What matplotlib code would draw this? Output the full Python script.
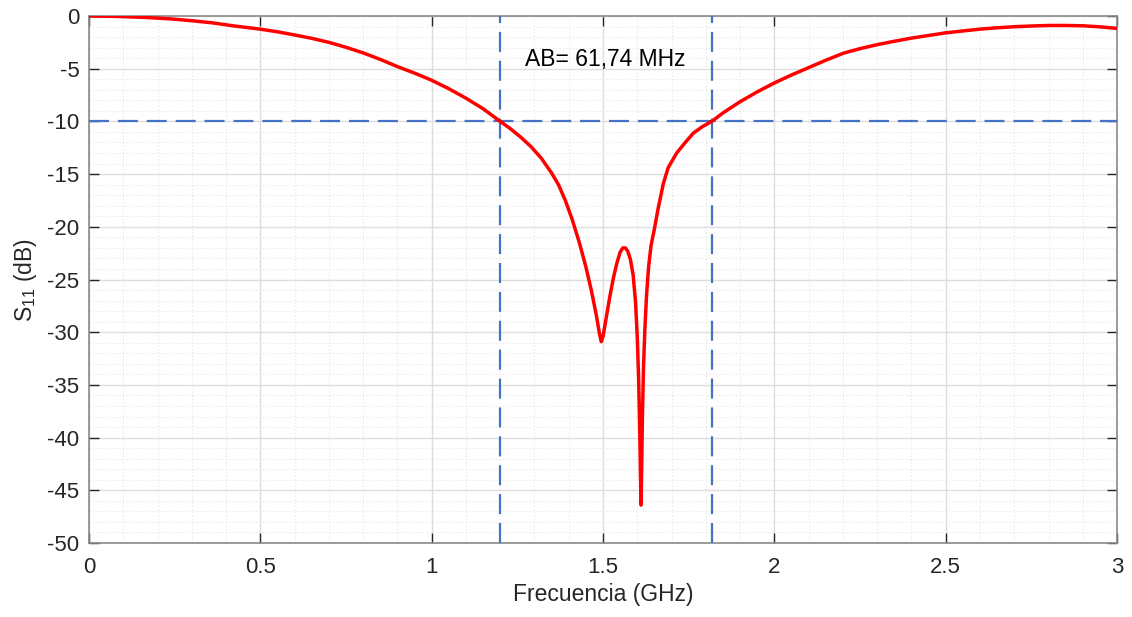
import matplotlib
matplotlib.use("Agg")
import matplotlib.pyplot as plt
from matplotlib.ticker import MultipleLocator

# ---------------------------------------------------------------------------
# Data
# ---------------------------------------------------------------------------

freq_ghz = [
    0.00, 0.08, 0.16, 0.24, 0.30, 0.36, 0.42, 0.50, 0.55, 0.60,
    0.65, 0.70, 0.75, 0.80, 0.85, 0.90, 0.95, 1.00, 1.05, 1.10,
    1.15, 1.20, 1.23, 1.26, 1.29, 1.32, 1.35, 1.37, 1.39, 1.41,
    1.43, 1.45, 1.465, 1.48, 1.49, 1.495, 1.50, 1.51, 1.52, 1.53,
    1.54, 1.55, 1.558, 1.565, 1.572, 1.58, 1.588, 1.595, 1.600, 1.604,
    1.607, 1.609, 1.611, 1.613, 1.615, 1.618, 1.622, 1.627, 1.633, 1.64,
    1.65, 1.66, 1.676, 1.69, 1.715, 1.74, 1.764, 1.79, 1.8174, 1.85,
    1.90, 1.95, 2.00, 2.05, 2.10, 2.15, 2.20, 2.21, 2.25, 2.30,
    2.35, 2.40, 2.45, 2.50, 2.55, 2.60, 2.65, 2.70, 2.75, 2.80,
    2.85, 2.90, 2.95, 3.00,
]
s11_db = [
    0.00, -0.04, -0.13, -0.28, -0.45, -0.65, -0.93, -1.25, -1.50, -1.80,
    -2.12, -2.50, -2.97, -3.50, -4.12, -4.80, -5.42, -6.10, -6.90, -7.80,
    -8.80, -10.00, -10.70, -11.50, -12.40, -13.50, -14.90, -16.00, -17.50, -19.30,
    -21.40, -23.80, -25.90, -28.30, -30.20, -30.90, -30.40, -28.50, -26.60, -24.90,
    -23.50, -22.40, -22.00, -22.00, -22.30, -23.10, -24.60, -27.20, -30.50, -34.50,
    -39.00, -43.00, -46.40, -42.50, -38.00, -33.50, -29.80, -26.50, -23.80, -21.80,
    -20.20, -18.40, -15.90, -14.40, -13.00, -12.00, -11.10, -10.50, -10.00, -9.20,
    -8.13, -7.20, -6.35, -5.60, -4.90, -4.20, -3.55, -3.45, -3.10, -2.72,
    -2.40, -2.10, -1.85, -1.60, -1.42, -1.25, -1.12, -1.02, -0.95, -0.90,
    -0.90, -0.93, -1.03, -1.18,
]

band_edges_ghz = [1.2, 1.8174]
threshold_db = -10
bandwidth_label = "AB= 61,74 MHz"

# ---------------------------------------------------------------------------
# Style
# ---------------------------------------------------------------------------

plt.rcParams["font.family"] = ["Liberation Sans", "DejaVu Sans"]
plt.rcParams["mathtext.default"] = "regular"
plt.rcParams["axes.unicode_minus"] = False

_CURVE = "#ff0000"
_GUIDE = "#4472c4"
_TEXT = "#262626"
_FRAME = "#8a8a8a"

fig = plt.figure(figsize=(11.32, 6.17), dpi=100)
ax = fig.add_axes([0.0786, 0.1199, 0.9082, 0.8542])

ax.plot(freq_ghz, s11_db, color=_CURVE, lw=2.5, zorder=4,
        solid_joinstyle="round", solid_capstyle="round")

for edge in band_edges_ghz:
    ax.axvline(edge, color=_GUIDE, lw=1.6, dashes=(9, 4), zorder=3)
ax.axhline(threshold_db, color=_GUIDE, lw=1.6, dashes=(9, 4), zorder=3)

ax.text(1.506, -4.1, bandwidth_label, ha="center", va="center",
        fontsize=16.5, color="black", zorder=5)

ax.set_xlim(0, 3)
ax.set_ylim(-50, 0)
ax.xaxis.set_major_locator(MultipleLocator(0.5))
ax.xaxis.set_minor_locator(MultipleLocator(0.1))
ax.yaxis.set_major_locator(MultipleLocator(5))
ax.yaxis.set_minor_locator(MultipleLocator(1))
ax.xaxis.set_major_formatter(plt.FuncFormatter(lambda v, p: f"{v:g}"))

ax.grid(which="major", color="#dedede", lw=1.0, zorder=0)
ax.grid(which="minor", color="#e4e4e4", lw=0.8, ls=(0, (1, 2)), zorder=0)
ax.set_axisbelow(True)

ax.tick_params(which="major", direction="in", length=7, width=1.0,
               color=_TEXT, labelsize=16, labelcolor=_TEXT,
               top=True, right=True)
ax.tick_params(axis="x", which="major", pad=10)
ax.tick_params(axis="y", which="major", pad=7)
ax.tick_params(which="minor", length=0, top=True, right=True)

for spine in ax.spines.values():
    spine.set_color(_FRAME)
    spine.set_linewidth(1.2)

ax.set_xlabel("Frecuencia (GHz)", fontsize=16.5, color=_TEXT, labelpad=4)
ax.set_ylabel("S$_{11}$ (dB)", fontsize=16.5, color=_TEXT, labelpad=6)

fig.savefig("out.png", dpi=100)
plt.close(fig)
